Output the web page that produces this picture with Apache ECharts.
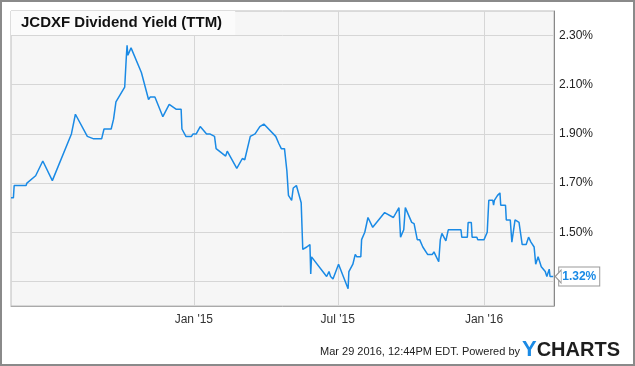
<!DOCTYPE html>
<html>
<head>
<meta charset="utf-8">
<script src="https://cdn.jsdelivr.net/npm/echarts@6/dist/echarts.min.js"></script>
<style>
  html, body { margin: 0; padding: 0; background: #fff; }
  #chart { width: 635px; height: 366px; }
</style>
</head>
<body>
<div id="chart"></div>
<script>
// JCDXF 股息率 (TTM)
var dates = [
    '2014-05-16', '2014-05-19', '2014-05-20', '2014-06-04', '2014-06-05', '2014-06-16', '2014-06-25',
    '2014-07-07', '2014-07-31', '2014-08-05', '2014-08-20', '2014-08-28', '2014-09-07', '2014-09-10',
    '2014-09-19', '2014-09-22', '2014-09-25', '2014-10-06', '2014-10-08', '2014-10-09', '2014-10-10',
    '2014-10-14', '2014-10-27', '2014-11-05', '2014-11-07', '2014-11-13', '2014-11-23', '2014-12-01',
    '2014-12-10', '2014-12-16', '2014-12-17', '2014-12-22', '2014-12-29', '2014-12-31',
    '2015-01-04', '2015-01-09', '2015-01-17', '2015-01-21', '2015-01-27', '2015-01-29', '2015-02-10',
    '2015-02-12', '2015-02-24', '2015-03-03', '2015-03-06', '2015-03-13', '2015-03-19', '2015-03-25',
    '2015-03-30', '2015-04-14', '2015-04-18', '2015-04-21', '2015-04-25', '2015-04-28', '2015-04-30',
    '2015-05-04', '2015-05-06', '2015-05-10', '2015-05-16', '2015-05-18', '2015-05-23', '2015-05-27',
    '2015-05-28', '2015-05-29', '2015-06-17', '2015-06-20', '2015-06-22', '2015-06-25', '2015-07-02',
    '2015-07-14', '2015-07-15', '2015-07-20', '2015-07-23', '2015-07-25', '2015-07-30', '2015-07-31',
    '2015-08-04', '2015-08-08', '2015-08-14', '2015-08-29', '2015-09-09', '2015-09-16', '2015-09-18',
    '2015-09-22', '2015-09-24', '2015-10-02', '2015-10-05', '2015-10-09', '2015-10-12', '2015-10-16',
    '2015-10-22', '2015-10-28', '2015-10-30', '2015-11-02', '2015-11-05', '2015-11-07', '2015-11-09',
    '2015-11-14', '2015-11-17', '2015-12-03', '2015-12-04', '2015-12-11', '2015-12-12', '2015-12-16',
    '2015-12-17', '2015-12-23', '2015-12-24',
    '2016-01-01', '2016-01-05', '2016-01-07', '2016-01-12', '2016-01-13', '2016-01-14', '2016-01-18',
    '2016-01-21', '2016-01-22', '2016-01-28', '2016-01-29', '2016-02-03', '2016-02-05', '2016-02-09',
    '2016-02-14', '2016-02-18', '2016-02-23', '2016-02-26', '2016-02-29', '2016-03-02', '2016-03-04',
    '2016-03-06', '2016-03-09', '2016-03-11', '2016-03-13', '2016-03-18', '2016-03-20', '2016-03-23',
    '2016-03-24', '2016-03-28'
];
var yields = [
    1.64, 1.64, 1.69, 1.69, 1.70, 1.73, 1.79,
    1.71, 1.90, 1.98, 1.89, 1.88, 1.88, 1.92,
    1.92, 1.96, 2.03, 2.09, 2.21, 2.26, 2.22,
    2.25, 2.15, 2.04, 2.05, 2.05, 1.97, 2.02,
    2.00, 2.00, 1.92, 1.89, 1.89, 1.90,
    1.90, 1.93, 1.90, 1.90, 1.89, 1.84, 1.81,
    1.83, 1.76, 1.80, 1.795, 1.89, 1.90, 1.93,
    1.94, 1.89, 1.86, 1.84, 1.84, 1.75, 1.65,
    1.63, 1.68, 1.69, 1.62, 1.43, 1.44, 1.45,
    1.33, 1.40, 1.32, 1.34, 1.32, 1.31, 1.37,
    1.27, 1.34, 1.37, 1.41, 1.40, 1.40, 1.47,
    1.50, 1.56, 1.52, 1.58, 1.56, 1.60, 1.48,
    1.51, 1.60, 1.54, 1.535, 1.47, 1.47, 1.44,
    1.41, 1.41, 1.42, 1.40, 1.38, 1.47, 1.495,
    1.465, 1.51, 1.51, 1.48, 1.48, 1.54, 1.54,
    1.48, 1.48, 1.47,
    1.47, 1.50, 1.63, 1.63, 1.61, 1.63, 1.65,
    1.66, 1.61, 1.61, 1.55, 1.55, 1.46, 1.55,
    1.54, 1.45, 1.45, 1.48, 1.46, 1.465, 1.44,
    1.37, 1.40, 1.40, 1.36, 1.34, 1.32, 1.35,
    1.32, 1.32
];

var xStart = '2014-05-16';
var xEnd = '2016-03-29';
var xTickDates = ['2015-01-01', '2015-07-01', '2016-01-01'];
var xTickLabels = ["Jan '15", "Jul '15", "Jan '16"];
var yGridValues = [1.3, 1.5, 1.7, 1.9, 2.1, 2.3];
var yLabelValues = [1.5, 1.7, 1.9, 2.1, 2.3];

var lineColor = '#1a8ae5';
var font = 'Arial, "Liberation Sans", sans-serif';

function toTime(d) {
    return +echarts.time.parse(d);
}

var seriesData = [];
for (let i = 0; i < dates.length; i++) {
    seriesData.push([toTime(dates[i]), yields[i]]);
}
var lastPoint = seriesData[seriesData.length - 1];
var xTickTimes = xTickDates.map(toTime);

var chart = echarts.init(document.getElementById('chart'), null, {renderer: 'canvas'});

var option = {
    animation: false,
    backgroundColor: '#fff',
    textStyle: {fontFamily: font},
    title: {
        text: 'JCDXF Dividend Yield (TTM)',
        left: 11,
        top: 11,
        padding: [4, 13, 4, 10],
        backgroundColor: '#fbfbfb',
        textStyle: {
            fontFamily: font,
            fontSize: 15,
            fontWeight: 'bold',
            color: '#111',
            lineHeight: 16
        }
    },
    grid: {
        left: 11,
        right: 81,
        top: 11,
        bottom: 60,
        show: true,
        backgroundColor: '#f6f6f6',
        borderColor: '#bbb',
        borderWidth: 1
    },
    xAxis: {
        type: 'value',
        min: toTime(xStart),
        max: toTime(xEnd),
        axisLine: {show: true, lineStyle: {color: '#aaa'}},
        axisTick: {show: false, customValues: xTickTimes},
        splitLine: {show: true, lineStyle: {color: '#d6d6d6', width: 1}},
        axisLabel: {
            customValues: xTickTimes,
            margin: 8,
            fontSize: 12,
            color: '#333',
            fontFamily: font,
            formatter: function (val) {
                var idx = xTickTimes.indexOf(+val);
                return idx >= 0 ? xTickLabels[idx] : '';
            }
        }
    },
    yAxis: {
        type: 'value',
        position: 'right',
        min: 1.2,
        max: 2.4,
        axisLine: {show: true, lineStyle: {color: '#888'}},
        axisTick: {show: false, customValues: yGridValues},
        splitLine: {show: true, lineStyle: {color: '#d6d6d6', width: 1}},
        axisLabel: {
            customValues: yLabelValues,
            margin: 5,
            fontSize: 12,
            color: '#222',
            fontFamily: font,
            formatter: function (v) { return v.toFixed(2) + '%'; }
        }
    },
    series: [{
        type: 'line',
        data: seriesData,
        showSymbol: false,
        lineStyle: {color: lineColor, width: 1.5},
        itemStyle: {color: lineColor},
        endLabel: {
            show: true,
            distance: 6,
            formatter: function (p) { return p.value[1].toFixed(2) + '%'; },
            color: lineColor,
            fontWeight: 'bold',
            fontSize: 12,
            fontFamily: font,
            lineHeight: 14,
            backgroundColor: '#fff',
            borderColor: '#999',
            borderWidth: 1,
            padding: [2, 3, 2, 3]
        },
        markPoint: {
            silent: true,
            symbol: 'triangle',
            symbolSize: [13, 6],
            symbolRotate: 90,
            symbolOffset: [5, 0],
            itemStyle: {color: '#fff', borderColor: '#999', borderWidth: 1},
            label: {show: false},
            data: [{coord: lastPoint}]
        }
    }],
    graphic: [
        {
            type: 'rect',
            silent: true,
            shape: {x: 1, y: 1, width: 633, height: 364},
            style: {fill: 'none', stroke: '#8a8a8a', lineWidth: 2}
        },
        {
            type: 'text',
            right: 115,
            top: 346,
            style: {
                text: 'Mar 29 2016, 12:44PM EDT. Powered by',
                fill: '#222',
                font: '11px ' + font
            }
        },
        {
            type: 'text',
            left: 522,
            top: 339,
            style: {
                text: '{y|Y}{c|CHARTS}',
                rich: {
                    y: {fill: '#1a8ae5', fontSize: 22, fontWeight: 'bold', fontFamily: font},
                    c: {fill: '#1d1d1d', fontSize: 20, fontWeight: 'bold', fontFamily: font}
                }
            }
        }
    ]
};

chart.setOption(option);
</script>
</body>
</html>
